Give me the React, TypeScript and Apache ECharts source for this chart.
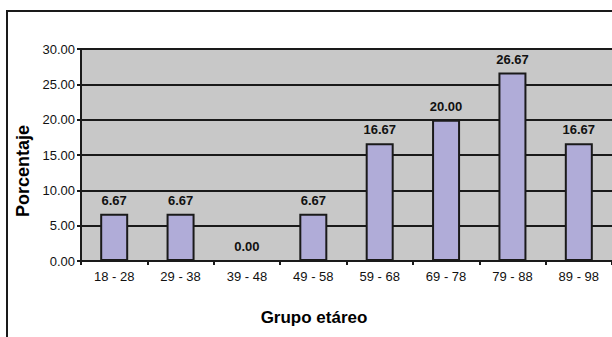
import React, { useEffect, useRef } from "react";
import * as echarts from "echarts";

const categories = ["18 - 28", "29 - 38", "39 - 48", "49 - 58", "59 - 68", "69 - 78", "79 - 88", "89 - 98"];
const percentages = [6.67, 6.67, 0.0, 6.67, 16.67, 20.0, 26.67, 16.67];
const yTicks = { min: 0, max: 30, interval: 5 };

const FONT = "Liberation Sans, Arial, sans-serif";

export default function App() {
  const ref = useRef<HTMLDivElement>(null);

  useEffect(() => {
    if (!ref.current) return;
    const chart = echarts.init(ref.current, undefined, { renderer: "svg" });
    chart.setOption({
      animation: false,
      backgroundColor: "#ffffff",
      grid: { left: 81, top: 49, width: 534, height: 212, show: true, backgroundColor: "#c8c8c8", borderWidth: 0 },
      graphic: [
        {
          type: "rect",
          shape: { x: 7, y: 11, width: 800, height: 500 },
          style: { fill: "none", stroke: "#1a1a1a", lineWidth: 2 },
          z: 10,
        },
        {
          type: "text",
          x: 23,
          y: 171,
          rotation: Math.PI / 2,
          style: {
            text: "Porcentaje",
            font: `bold 18px ${FONT}`,
            fill: "#000",
            align: "center",
            verticalAlign: "middle",
          },
        },
        {
          type: "text",
          x: 314,
          y: 317,
          style: {
            text: "Grupo etáreo",
            font: `bold 17px ${FONT}`,
            fill: "#000",
            align: "center",
            verticalAlign: "middle",
          },
        },
      ],
      xAxis: {
        type: "category",
        data: categories,
        boundaryGap: true,
        axisLine: { show: true, lineStyle: { color: "#1a1a1a", width: 2 } },
        axisTick: { show: true, alignWithLabel: false, length: 4, lineStyle: { color: "#1a1a1a", width: 2 } },
        axisLabel: { color: "#111", fontFamily: FONT, fontSize: 13, margin: 9 },
        splitLine: { show: false },
      },
      yAxis: {
        type: "value",
        min: yTicks.min,
        max: yTicks.max,
        interval: yTicks.interval,
        axisLine: { show: true, lineStyle: { color: "#1a1a1a", width: 2 } },
        axisTick: { show: true, length: 4, lineStyle: { color: "#1a1a1a", width: 2 } },
        axisLabel: {
          color: "#111",
          fontFamily: FONT,
          fontSize: 13,
          margin: 6,
          formatter: (v: number) => v.toFixed(2),
        },
        splitLine: { show: true, lineStyle: { color: "#1a1a1a", width: 2 } },
      },
      series: [
        {
          type: "bar",
          data: percentages,
          barWidth: 28,
          itemStyle: { color: "#b0acd8", borderColor: "#1a1a1a", borderWidth: 2 },
          label: {
            show: true,
            position: "top",
            distance: 7,
            color: "#111",
            fontFamily: FONT,
            fontWeight: "bold",
            fontSize: 13,
            formatter: (p: any) => Number(p.value).toFixed(2),
          },
        },
      ],
    });
    return () => chart.dispose();
  }, []);

  return (
    <div
      ref={ref}
      style={{ position: "fixed", left: 0, top: 0, width: 612, height: 337 }}
    />
  );
}
